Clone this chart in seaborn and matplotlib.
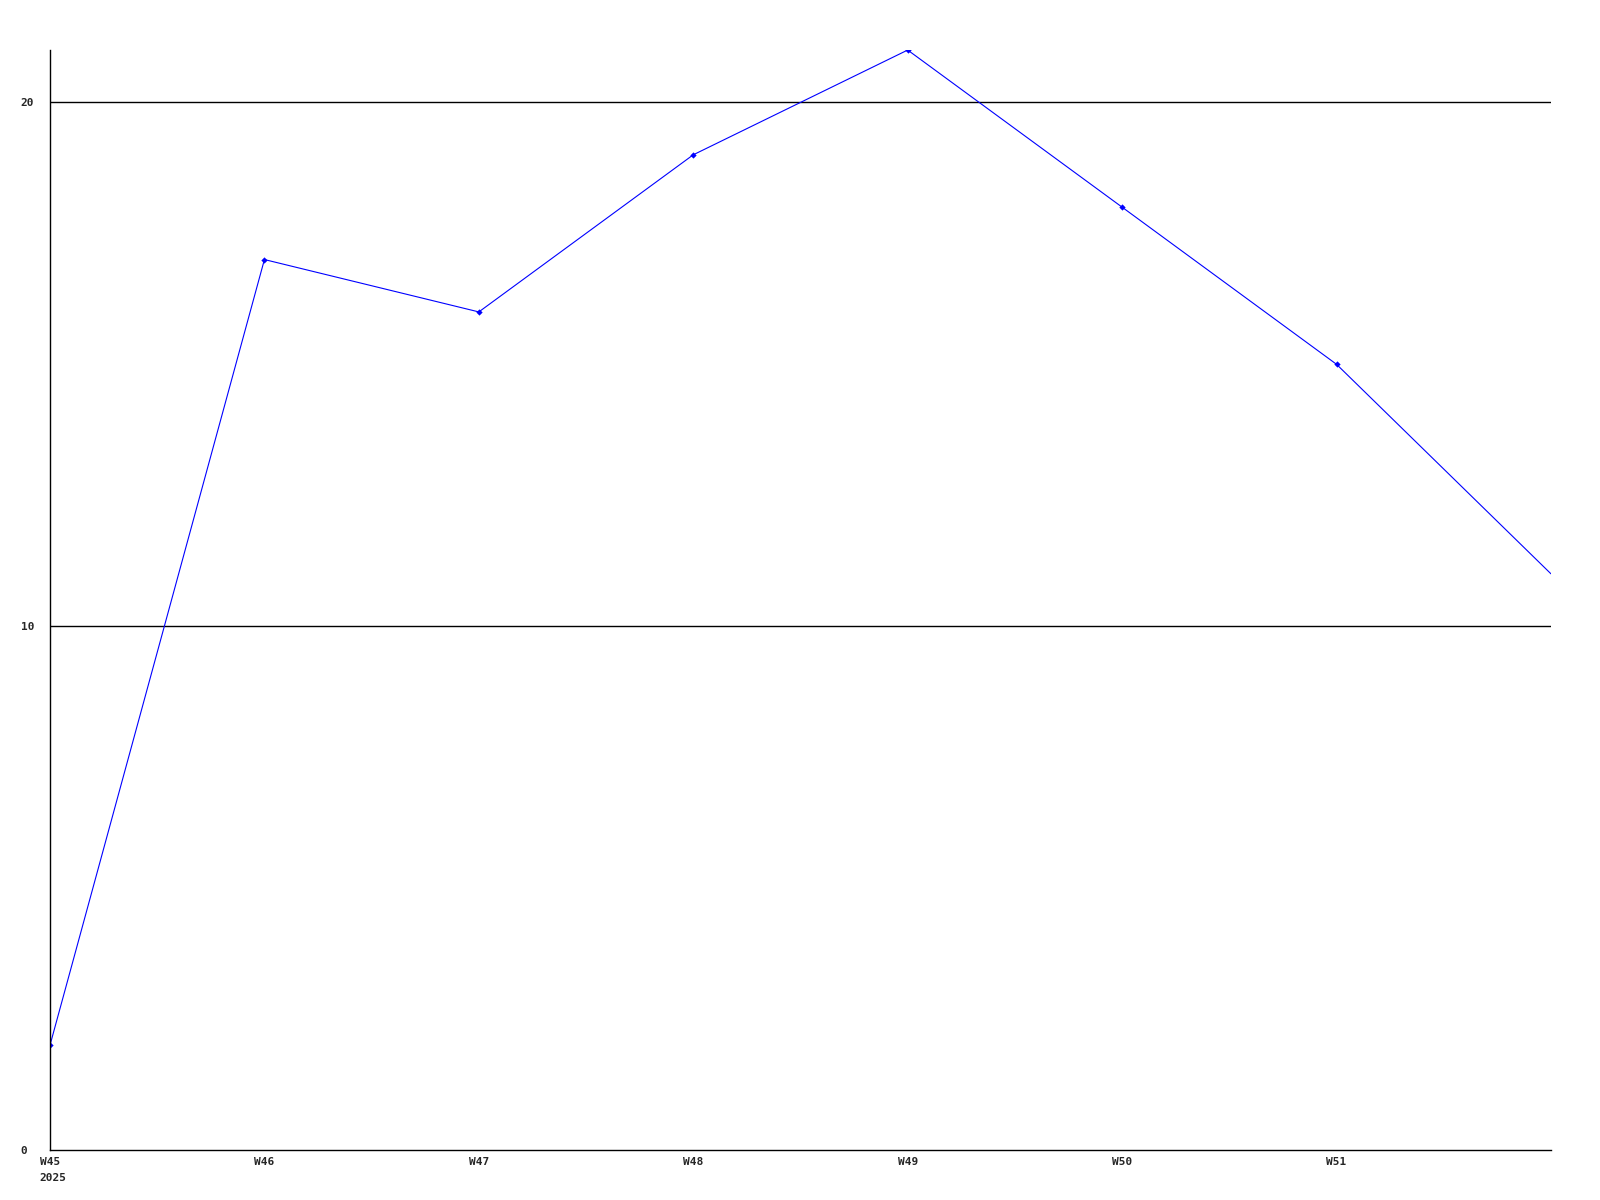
import matplotlib
matplotlib.use("Agg")
import matplotlib.pyplot as plt
import seaborn as sns
import pandas as pd

weeks = ["W45", "W46", "W47", "W48", "W49", "W50", "W51", "W52"]
values = [2, 17, 16, 19, 21, 18, 15, 11]
year_label = "2025"
y_ticks = [0, 10, 20]

df = pd.DataFrame({"week": weeks, "value": values})

sns.set_style("white")
plt.rcParams["font.family"] = ["DejaVu Sans Mono"]

fig = plt.figure(figsize=(16, 12), dpi=100)
ax = fig.add_axes([0.03125, 0.0417, 0.9381, 0.9166])

# last point sits on the right edge, no marker drawn there
sns.lineplot(data=df, x="week", y="value", ax=ax, color="#0000ff",
             linewidth=0.8, marker="D", markersize=3.2, markeredgewidth=0,
             markevery=list(range(len(weeks) - 1)))

for y in y_ticks[1:]:
    ax.axhline(y, color="black", linewidth=1, zorder=0)

ax.set_xlim(0, len(weeks) - 1)
ax.set_ylim(0, max(values))
ax.set_xticks(range(len(weeks) - 1))
ax.set_xticklabels(weeks[:-1], fontsize=8, fontweight="bold")
ax.set_yticks(y_ticks)
ax.set_yticklabels([str(t) for t in y_ticks], fontsize=8, fontweight="bold",
                   ha="left")
ax.tick_params(axis="both", length=0)
ax.tick_params(axis="y", pad=21)
ax.tick_params(axis="x", pad=5)
ax.set_xlabel("")
ax.set_ylabel("")

for side in ["top", "right"]:
    ax.spines[side].set_visible(False)
for side in ["left", "bottom"]:
    ax.spines[side].set_color("black")
    ax.spines[side].set_linewidth(1)

ax.text(-0.05, -0.021, year_label, transform=ax.get_xaxis_transform(),
        ha="left", va="top", fontsize=8, fontweight="bold")

fig.savefig("out.png", dpi=100)
